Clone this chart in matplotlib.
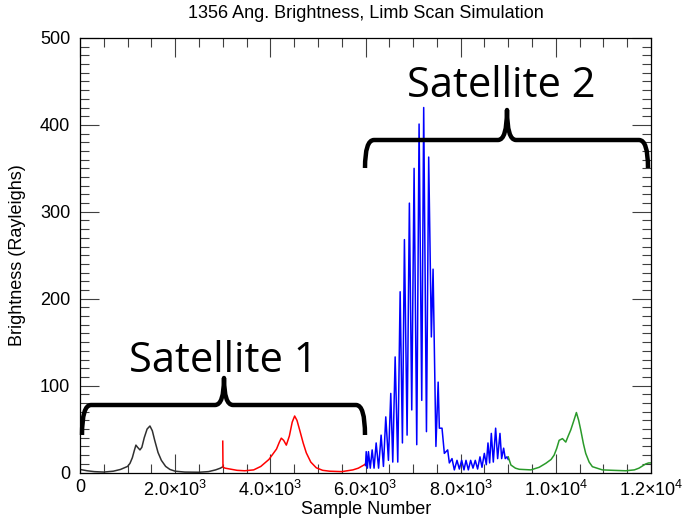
import matplotlib
matplotlib.use("Agg")
import matplotlib.pyplot as plt
from matplotlib.path import Path
from matplotlib.patches import PathPatch
from matplotlib.transforms import Affine2D
from matplotlib.ticker import MultipleLocator

# ---- data ----
black_x = [0, 150, 300, 500, 700, 850, 1000, 1050, 1100, 1140, 1175, 1210, 1260, 1300,
           1350, 1410, 1470, 1520, 1570, 1640, 1710, 1800, 1890, 2000, 2200, 2500,
           2700, 2850, 2950, 3000]
black_y = [3.5, 2, 1, 0.5, 1.5, 3.5, 7, 10.5, 17, 25, 31.5, 29, 26, 29, 40, 50, 53.5,
           48, 37, 23, 14, 7, 3.5, 1.5, 0.5, 0.3, 1, 3, 5, 6.5]

red_x = [3000, 3005, 3050, 3150, 3300, 3460, 3650, 3800, 3970, 4050, 4130, 4190, 4230,
         4280, 4336, 4400, 4460, 4511, 4560, 4616, 4690, 4756, 4850, 4966, 5100, 5245,
         5500, 5735, 5850, 5979, 6000]
red_y = [36, 6, 5, 4, 2.5, 2, 3, 7, 15, 21, 27, 35, 39.5, 37, 31.5, 42, 58, 65, 60, 49,
         34, 22.6, 12, 5.4, 2.5, 1.5, 1, 3, 5, 9, 10]

blue_x = [6000, 6015, 6040, 6062, 6100, 6140, 6180, 6224, 6275, 6328, 6377, 6426, 6482,
          6531, 6573, 6623, 6678, 6728, 6776, 6818, 6874, 6922, 6972, 7021, 7077, 7126,
          7182, 7223, 7281, 7328, 7384, 7420, 7480, 7527, 7552, 7608, 7657, 7727, 7762,
          7818, 7867, 7923, 7972, 8021, 8070, 8112, 8161, 8210, 8259, 8307, 8356, 8406,
          8448, 8497, 8539, 8574, 8609, 8644, 8686, 8735, 8777, 8826, 8861, 8903, 8937,
          8972, 9000]
blue_y = [8, 24, 5, 24, 5, 26, 5, 34, 5, 43, 7, 64, 14, 91, 12, 133, 12, 208, 34, 268,
          43, 310, 72, 350, 32, 401, 83, 420, 47, 363, 156, 234, 30, 104, 51, 51, 22, 26,
          11, 16, 3, 14, 4, 14, 3, 14, 3, 14, 5, 14, 4, 18, 6, 22, 9, 34, 11, 45, 12, 51,
          16, 45, 16, 28, 16, 18, 15]

green_x = [9000, 9056, 9150, 9230, 9475, 9650, 9790, 9900, 9964, 10020, 10069, 10139,
           10209, 10260, 10314, 10380, 10432, 10480, 10523, 10580, 10628, 10700, 10768,
           10978, 11200, 11467, 11650, 11747, 11887, 11950, 12000]
green_y = [18, 8.6, 5, 3.7, 3, 6, 10.6, 15, 20, 28, 37, 39, 35, 42, 49, 60, 69, 60, 49,
           33, 22, 12, 6.7, 3, 2.5, 2, 3, 5, 9.8, 11, 11]

xtick_vals = [0, 2000, 4000, 6000, 8000, 10000, 12000]
xtick_labels = ['0', r'2.0$\times$10$^3$', r'4.0$\times$10$^3$', r'6.0$\times$10$^3$',
                r'8.0$\times$10$^3$', r'1.0$\times$10$^4$', r'1.2$\times$10$^4$']
ytick_vals = [0, 100, 200, 300, 400, 500]

plt.rcParams['font.family'] = ['Liberation Sans', 'DejaVu Sans']
plt.rcParams['mathtext.fontset'] = 'custom'
plt.rcParams['mathtext.rm'] = 'Liberation Sans'
plt.rcParams['mathtext.it'] = 'Liberation Sans:italic'

W, H = 685, 519
fig = plt.figure(figsize=(W / 100, H / 100), dpi=100)
ax = fig.add_axes([80 / W, (H - 472.5) / H, (651 - 80) / W, (472.5 - 38) / H])

ax.plot(black_x, black_y, color='#303030', lw=1.1)
ax.plot(red_x, red_y, color='red', lw=1.1)
ax.plot(blue_x, blue_y, color='blue', lw=1.1)
ax.plot(green_x, green_y, color='#2a9a2a', lw=1.1)

ax.set_xlim(0, 12000)
ax.set_ylim(0, 500)
ax.set_xticks(xtick_vals)
ax.set_xticklabels(xtick_labels)
ax.set_yticks(ytick_vals)
ax.xaxis.set_minor_locator(MultipleLocator(500))
ax.yaxis.set_minor_locator(MultipleLocator(10))
ax.tick_params(which='both', direction='in', top=True, right=True, width=0.8,
               color='#404040', labelsize=13)
ax.tick_params(which='major', length=13.5)
ax.tick_params(which='minor', length=6.5)
ax.tick_params(axis='x', pad=5)
ax.tick_params(axis='y', pad=7)
for s in ax.spines.values():
    s.set_linewidth(0.9)

fig.text(366 / W, 1 - 14 / H, '1356 Ang. Brightness, Limb Scan Simulation',
         ha='center', va='center', fontsize=13)
fig.text(366 / W, 1 - 510 / H, 'Sample Number', ha='center', va='center', fontsize=13)
fig.text(18 / W, 1 - 255 / H, 'Brightness (Rayleighs)', ha='center', va='center',
         rotation=90, fontsize=13)

# curly-brace annotations, drawn in pixel coordinates (y down)
pix = Affine2D().scale(1 / W, -1 / H).translate(0, 1) + fig.transFigure


def brace(x0, x1, xc, yh, ye, yt, r=9, rc=9):
    verts = [(x0, ye), (x0, yh), (x0 + r, yh),
             (xc - rc, yh),
             (xc, yh), (xc, yt),
             (xc, yh), (xc + rc, yh),
             (x1 - r, yh),
             (x1, yh), (x1, ye)]
    codes = [Path.MOVETO, Path.CURVE3, Path.CURVE3,
             Path.LINETO,
             Path.CURVE3, Path.CURVE3,
             Path.CURVE3, Path.CURVE3,
             Path.LINETO,
             Path.CURVE3, Path.CURVE3]
    p = PathPatch(Path(verts, codes), transform=pix, fill=False, lw=3.2,
                  edgecolor='black', capstyle='butt', joinstyle='round')
    fig.add_artist(p)


brace(82, 365, 224, 405, 435, 378)
brace(365, 648, 507, 140, 168, 110)

fig.text(223 / W, 1 - 372 / H, 'Satellite 1', ha='center', va='baseline',
         fontsize=30, family='Open Sans')
fig.text(501 / W, 1 - 97 / H, 'Satellite 2', ha='center', va='baseline',
         fontsize=30, family='Open Sans')

fig.savefig('out.png', dpi=100)
